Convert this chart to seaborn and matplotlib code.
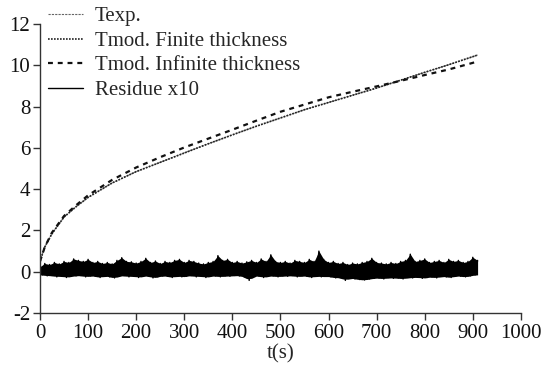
import numpy as np
import pandas as pd
import matplotlib
matplotlib.use("Agg")
import matplotlib.pyplot as plt
import seaborn as sns

# time axis of the curves (s)
t_curve = [0, 10, 25, 50, 75, 100, 150, 200, 250, 300, 350, 400, 450, 500,
           550, 600, 650, 700, 750, 800, 850, 900, 910]

t_measured = [0.5, 1.2, 1.85, 2.65, 3.15, 3.6, 4.3, 4.85, 5.3, 5.76, 6.2, 6.63,
              7.05, 7.45, 7.85, 8.2, 8.55, 8.9, 9.28, 9.66, 10.03, 10.42, 10.5]
t_finite = [0.5, 1.2, 1.85, 2.65, 3.15, 3.6, 4.3, 4.85, 5.3, 5.75, 6.2, 6.63,
            7.05, 7.45, 7.85, 8.2, 8.55, 8.9, 9.28, 9.66, 10.03, 10.42, 10.5]
t_infinite = [0.5, 1.2, 1.9, 2.7, 3.22, 3.7, 4.45, 5.05, 5.55, 6.02, 6.45, 6.88,
              7.32, 7.75, 8.1, 8.45, 8.72, 8.98, 9.25, 9.53, 9.8, 10.12, 10.2]

# residue x10: upper peaks every 10 s (0..910), lower troughs in between (5..905)
res_upper = [0.25, 0.4, 0.35, 0.45, 0.38, 0.5, 0.45, 0.62, 0.55, 0.5,
             0.6, 0.45, 0.5, 0.4, 0.45, 0.38, 0.55, 0.68, 0.5, 0.48,
             0.42, 0.5, 0.65, 0.45, 0.52, 0.4, 0.5, 0.45, 0.55, 0.6,
             0.45, 0.55, 0.5, 0.42, 0.38, 0.45, 0.5, 0.78, 0.55, 0.6,
             0.45, 0.5, 0.42, 0.48, 0.55, 0.45, 0.62, 0.5, 0.82, 0.5,
             0.45, 0.5, 0.42, 0.55, 0.5, 0.45, 0.6, 0.5, 1.0, 0.6,
             0.45, 0.5, 0.4, 0.45, 0.35, 0.42, 0.38, 0.45, 0.5, 0.65,
             0.45, 0.42, 0.38, 0.45, 0.4, 0.5, 0.55, 0.85, 0.5, 0.55,
             0.62, 0.45, 0.5, 0.55, 0.45, 0.6, 0.5, 0.55, 0.45, 0.5,
             0.7, 0.55]
res_lower = [-0.15, -0.2, -0.18, -0.25, -0.2, -0.28, -0.22, -0.2, -0.18, -0.25,
             -0.2, -0.22, -0.28, -0.2, -0.25, -0.3, -0.22, -0.18, -0.25, -0.2,
             -0.28, -0.22, -0.2, -0.3, -0.25, -0.2, -0.22, -0.28, -0.2, -0.25,
             -0.22, -0.18, -0.25, -0.2, -0.28, -0.22, -0.2, -0.25, -0.2, -0.22,
             -0.18, -0.2, -0.25, -0.42, -0.22, -0.2, -0.28, -0.22, -0.2, -0.25,
             -0.2, -0.22, -0.18, -0.25, -0.2, -0.22, -0.28, -0.2, -0.25, -0.22,
             -0.25, -0.3, -0.28, -0.42, -0.3, -0.35, -0.38, -0.4, -0.35, -0.32,
             -0.3, -0.35, -0.28, -0.32, -0.3, -0.35, -0.28, -0.3, -0.25, -0.32,
             -0.28, -0.25, -0.3, -0.22, -0.25, -0.28, -0.2, -0.22, -0.25, -0.2,
             -0.15]

t_up = np.arange(len(res_upper)) * 10
t_low = np.arange(len(res_lower)) * 10 + 5

# interleave peaks and troughs into one noisy trace
res_t = []
res_v = []
for i, u in enumerate(res_upper):
    res_t.append(t_up[i])
    res_v.append(u)
    if i < len(res_lower):
        res_t.append(t_low[i])
        res_v.append(res_lower[i])

sns.set_style("ticks")
plt.rcParams["font.family"] = ["Liberation Serif", "DejaVu Serif"]
plt.rcParams["axes.unicode_minus"] = False

fig = plt.figure(figsize=(5.44, 3.70), dpi=100)
ax = fig.add_axes([0.0735, 0.154, 0.884, 0.781])

# residue band: filled envelope plus the jagged trace
ax.fill_between(t_up, res_upper, np.interp(t_up, t_low, res_lower),
                color="black", lw=0)
sns.lineplot(x=res_t, y=res_v, ax=ax, color="black", lw=1.0)

sns.lineplot(x=t_curve, y=t_measured, ax=ax, color="#666666", lw=0.8,
             linestyle=(0, (2.0, 1.0)))
sns.lineplot(x=t_curve, y=t_finite, ax=ax, color="#222222", lw=1.2,
             linestyle=(0, (1, 0.8)))
sns.lineplot(x=t_curve, y=t_infinite, ax=ax, color="#111111", lw=1.6,
             linestyle=(0, (2.2, 2.2)))

ax.set_xlim(0, 1000)
ax.set_ylim(-2, 12)
ax.set_xticks(range(0, 1001, 100))
ax.set_yticks(range(-2, 13, 2))
ax.tick_params(direction="out", length=5, width=1, labelsize=15, pad=2,
               color="#333333", labelcolor="#111111")
ax.tick_params(axis="x", pad=3)
for s in ["left", "bottom"]:
    ax.spines[s].set_color("#333333")
    ax.spines[s].set_linewidth(1)
sns.despine(ax=ax)
ax.set_xlabel("t(s)", fontsize=15, labelpad=1)
ax.set_ylabel("")

lines = ax.get_lines()
handles = [lines[1], lines[2], lines[3], lines[0]]
labels = ["Texp.", "Tmod. Finite thickness", "Tmod. Infinite thickness", "Residue x10"]
ax.legend(handles, labels, loc="upper left", bbox_to_anchor=(0.088, 0.982),
          bbox_transform=fig.transFigure, frameon=False, fontsize=15,
          handlelength=1.7, handletextpad=0.55, labelspacing=0.24,
          borderaxespad=0, borderpad=0)

fig.savefig("out.png", dpi=100)
